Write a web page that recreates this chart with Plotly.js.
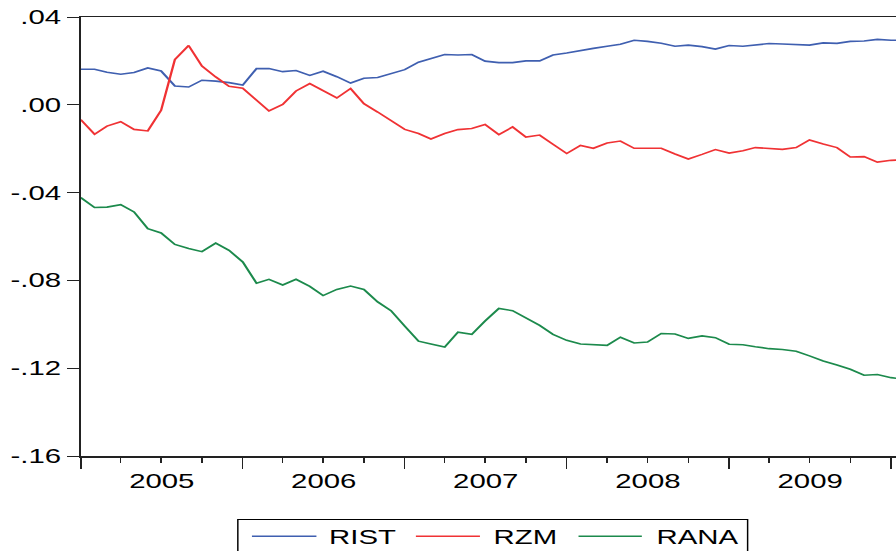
<!DOCTYPE html>
<html>
<head>
<meta charset="utf-8">
<script src="https://cdn.plot.ly/plotly-3.0.1.min.js"></script>
<style>
  html, body { margin: 0; padding: 0; background: #fff; overflow: hidden; }
  #wrap { width: 896px; height: 551px; overflow: hidden; }
  #plot { width: 610px; height: 551px; transform: scaleX(1.46885); transform-origin: 0 0; }
</style>
</head>
<body>
<div id="wrap"><div id="plot"></div></div>
<script>
// ---- data (monthly, starting 2005M01) ----
const startYear = 2005;
const seriesNames = ["RIST", "RZM", "RANA"];
const seriesColors = ["#3f5fb0", "#f03234", "#1c8a4c"];

const RIST = [0.0162,0.0162,0.0148,0.0139,0.0147,0.0168,0.0154,0.0086,0.0081,0.0112,
              0.0108,0.0101,0.0090,0.0165,0.0165,0.0151,0.0156,0.0134,0.0153,0.0128,
              0.0099,0.0121,0.0124,0.0142,0.0160,0.0194,0.0210,0.0229,0.0227,0.0229,
              0.0199,0.0192,0.0192,0.0200,0.0200,0.0227,0.0236,0.0248,0.0257,0.0267,
              0.0276,0.0294,0.0289,0.0280,0.0267,0.0272,0.0265,0.0254,0.0270,0.0267,
              0.0274,0.0279,0.0277,0.0276,0.0272,0.0282,0.0280,0.0289,0.0291,0.0298,
              0.0294,0.0295];
const RZM  = [-0.0068,-0.0134,-0.0097,-0.0077,-0.0112,-0.0119,-0.0025,0.0206,0.0270,0.0177,
              0.0127,0.0084,0.0075,0.0021,-0.0028,0.0002,0.0063,0.0097,0.0065,0.0031,
              0.0074,0.0005,-0.0033,-0.0074,-0.0112,-0.0131,-0.0156,-0.0131,-0.0113,-0.0108,
              -0.0090,-0.0136,-0.0101,-0.0147,-0.0138,-0.0180,-0.0222,-0.0185,-0.0198,-0.0174,
              -0.0165,-0.0198,-0.0198,-0.0198,-0.0224,-0.0247,-0.0226,-0.0204,-0.0220,-0.0209,
              -0.0195,-0.0200,-0.0203,-0.0195,-0.0160,-0.0179,-0.0195,-0.0238,-0.0236,-0.0261,
              -0.0253,-0.0250];
const RANA = [-0.0423,-0.0468,-0.0466,-0.0455,-0.0488,-0.0564,-0.0584,-0.0636,-0.0655,-0.0669,
              -0.0630,-0.0663,-0.0716,-0.0813,-0.0795,-0.0821,-0.0795,-0.0827,-0.0869,-0.0841,
              -0.0826,-0.0841,-0.0898,-0.0938,-0.1008,-0.1077,-0.1090,-0.1104,-0.1036,-0.1046,
              -0.0985,-0.0928,-0.0938,-0.0971,-0.1005,-0.1046,-0.1073,-0.1090,-0.1094,-0.1096,
              -0.1059,-0.1085,-0.1081,-0.1042,-0.1044,-0.1064,-0.1053,-0.1061,-0.1091,-0.1093,
              -0.1102,-0.1111,-0.1115,-0.1123,-0.1144,-0.1167,-0.1185,-0.1205,-0.1232,-0.1229,
              -0.1243,-0.1250];

const yTickVals = [0.04, 0.00, -0.04, -0.08, -0.12, -0.16];
const yTickText = [".04", ".00", "-.04", "-.08", "-.12", "-.16"];

// monthly date index
const months = RIST.map((_, i) => {
  const y = startYear + Math.floor(i / 12);
  const m = (i % 12) + 1;
  return y + "-" + String(m).padStart(2, "0") + "-01";
});

const seriesValues = [RIST, RZM, RANA];
const traces = seriesValues.map((vals, k) => ({
  type: "scatter", mode: "lines",
  x: months, y: vals, name: seriesNames[k],
  line: { color: seriesColors[k], width: 1.6 },
  showlegend: false, hoverinfo: "skip"
}));

// ---- layout (unstretched coordinates; page is stretched horizontally) ----
const W = 610, H = 551;
const L = 55.1, T = 16.7, B = 551 - 455.7;
const plotW = W - L, plotH = H - T - B;
const px = u => (u - L) / plotW;          // px -> paper x
const py = v => (H - B - v) / plotH;      // px -> paper y
const FONT = "Liberation Sans, Arial, sans-serif";

const shapes = [{
  type: "rect", xref: "paper", yref: "paper",
  x0: px(162), x1: px(509), y0: py(519.3), y1: py(570),
  line: { color: "#000", width: 1 }, fillcolor: "rgba(0,0,0,0)"
}];
const annotations = [];
const legendLines = [[171.6, 215.5, 223.3], [283.2, 326.8, 335.0], [393.9, 437.0, 445.6]];
legendLines.forEach((p, k) => {
  shapes.push({
    type: "line", xref: "paper", yref: "paper",
    x0: px(p[0]), x1: px(p[1]), y0: py(536), y1: py(536),
    line: { color: seriesColors[k], width: 1.6 }
  });
  annotations.push({
    xref: "paper", yref: "paper", x: px(p[2] - 1), y: py(536.5),
    xanchor: "left", yanchor: "middle", showarrow: false,
    text: seriesNames[k], font: { family: FONT, size: 20, color: "#000" }
  });
});

const layout = {
  width: W, height: H,
  margin: { l: L, r: 0, t: T, b: B, pad: 0 },
  paper_bgcolor: "#fff", plot_bgcolor: "#fff",
  font: { family: FONT, size: 20, color: "#000" },
  showlegend: false,
  xaxis: {
    type: "date",
    range: ["2005-01-01", "2010-01-12"],
    tick0: "2005-01-01", dtick: "M12",
    tickformat: "%Y", ticklabelmode: "period",
    ticks: "outside", ticklen: 11, tickwidth: 1, tickcolor: "#222",
    ticklabelstandoff: -4,
    minor: { dtick: "M3", ticks: "outside", ticklen: 5, tickwidth: 1, tickcolor: "#222", showgrid: false },
    showline: true, linecolor: "#222", linewidth: 1.5, mirror: true,
    showgrid: false, zeroline: false,
    tickfont: { family: FONT, size: 20, color: "#000" }
  },
  yaxis: {
    range: [-0.16, 0.04],
    tickvals: yTickVals, ticktext: yTickText,
    ticks: "outside", ticklen: 8, tickwidth: 1, tickcolor: "#222",
    showline: true, linecolor: "#222", linewidth: 1.4,
    showgrid: false, zeroline: false,
    tickfont: { family: FONT, size: 20, color: "#000" }
  },
  shapes: shapes,
  annotations: annotations
};

Plotly.newPlot("plot", traces, layout, { staticPlot: true, displayModeBar: false });
</script>
</body>
</html>
